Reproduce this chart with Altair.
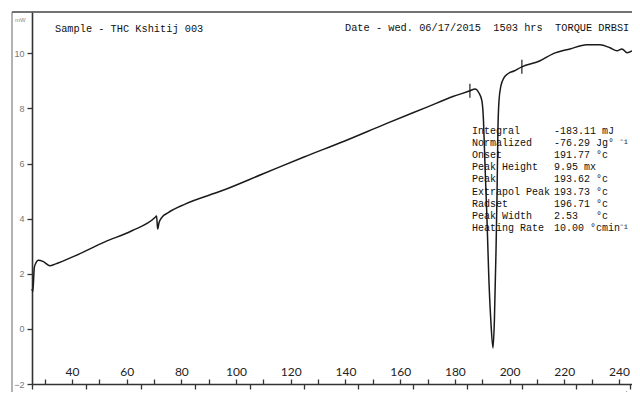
import altair as alt
import pandas as pd

# DSC curve: time (min) vs heat flow (mW)
time_min = [0.00, 0.03, 0.085, 0.17, 0.23, 0.42, 0.66, 0.85, 1.58, 2.68, 3.67,
            4.52, 4.58, 4.62, 4.67, 4.77, 5.01, 5.63, 7.0, 8.5, 10.0, 11.5, 13.0,
            14.5, 15.5, 16.10, 16.29, 16.43, 16.54, 16.60, 16.65, 16.73, 16.80,
            16.87, 16.95, 17.00, 17.06, 17.10, 17.13, 17.17, 17.24, 17.35, 17.50,
            17.72, 18.01, 18.68, 19.15, 19.78, 20.40, 20.88, 21.25, 21.51, 21.69,
            21.88, 22.06]
heat_flow = [1.45, 1.35, 2.23, 2.44, 2.49, 2.44, 2.29, 2.35, 2.65, 3.16, 3.56,
             4.04, 4.10, 3.62, 3.85, 4.04, 4.22, 4.53, 5.02, 5.63, 6.24, 6.82, 7.44,
             8.04, 8.44, 8.64, 8.71, 8.57, 8.28, 7.55, 6.10, 3.92, 1.74,
             0.29, -0.69, 0.29, 2.83, 5.01, 7.19, 8.28, 8.82, 9.11, 9.26,
             9.36, 9.51, 9.73, 9.98, 10.16, 10.31, 10.31, 10.20, 10.09, 10.16,
             10.02, 10.09]

# onset / endset markers on the curve
marker_t = [16.10, 18.01]
marker_y = [8.64, 9.51]

y_ticks = [-2, -1, 0, 1, 2, 3, 4, 5, 6, 7, 8, 9, 10, 11]
min_ticks = [0, 1, 2, 3, 4, 5, 6, 7, 8, 9, 10, 11, 12, 13, 14, 15, 16, 17, 18,
             19, 20, 21, 22]
temp_ticks = [30, 40, 50, 60, 70, 80, 90, 100, 110, 120, 130, 140, 150, 160,
              170, 180, 190, 200, 210, 220, 230, 240]

table_labels = ["Integral", "Normalized", "Onset", "Peak Height", "Peak",
                "Extrapol Peak", "Radset", "Peak Width", "Heating Rate"]
table_values = ["-183.11 mJ", "-76.29 Jg\u00b0 \u207b\u00b9", "191.77 \u00b0c",
                "9.95 mx", "193.62 \u00b0c", "193.73 \u00b0c", "196.71 \u00b0c",
                "2.53\u00a0\u00a0\u00a0\u00b0c", "10.00 \u00b0cmin\u207b\u00b9"]

sample_text = "Sample - THC Kshitij 003"
date_text = "Date - wed. 06/17/2015\u00a0\u00a01503 hrs\u00a0\u00a0TORQUE DRBSI"

W, H = 600, 372
MONO = "Liberation Mono"
INK = "#111111"

df = pd.DataFrame({"t": time_min, "y": heat_flow})
mk = pd.DataFrame({"t": marker_t, "y": marker_y})
tdf = pd.DataFrame({"T": temp_ticks})

xs = alt.Scale(domain=[0, 22.06], nice=False, zero=False)
ys = alt.Scale(domain=[-2, 11.5], nice=False, zero=False)

x_axis = alt.Axis(orient="bottom", values=min_ticks,
                  labelExpr="datum.value % 2 === 0 && datum.value <= 20 ? datum.label : ''",
                  title=None, grid=False, tickSize=5, tickWidth=1.3,
                  tickColor="#333", domainColor="#333", domainWidth=1.6,
                  labelColor="#777", labelFont="Liberation Sans",
                  labelFontSize=8, labelPadding=1, labelFlush=False)
y_axis = alt.Axis(values=y_ticks,
                  labelExpr="datum.value % 2 === 0 ? datum.label : ''",
                  title=None, grid=False, tickSize=5, tickWidth=1.3,
                  tickColor="#333", domainColor="#333", domainWidth=1.6,
                  labelColor="#777", labelFont="Liberation Sans",
                  labelFontSize=9, labelPadding=3)

curve = alt.Chart(df).mark_line(color="#1a1a1a", strokeWidth=1.5,
                                interpolate="monotone").encode(
    x=alt.X("t:Q", scale=xs, axis=x_axis),
    y=alt.Y("y:Q", scale=ys, axis=y_axis),
)

markers = alt.Chart(mk).mark_tick(orient="vertical", size=14, thickness=1.6,
                                  color=INK).encode(
    x=alt.X("t:Q", scale=xs), y=alt.Y("y:Q", scale=ys))

frame_top = alt.Chart().mark_rule(color="#444", strokeWidth=1.5).encode(
    x=alt.value(-20), x2=alt.value(W), y=alt.value(0))
frame_left = alt.Chart().mark_rule(color="#666", strokeWidth=1).encode(
    x=alt.value(-20), y=alt.value(0), y2=alt.value(H + 20))

t_sample = alt.Chart().mark_text(font=MONO, fontSize=10.3, color=INK,
                                 align="left", baseline="middle").encode(
    x=alt.value(23), y=alt.value(17), text=alt.value(sample_text))
t_date = alt.Chart().mark_text(font=MONO, fontSize=10.3, color=INK,
                               align="left", baseline="middle").encode(
    x=alt.value(313), y=alt.value(16), text=alt.value(date_text))
t_unit = alt.Chart().mark_text(font="Liberation Sans", fontSize=6, color="#888",
                               align="left", baseline="middle").encode(
    x=alt.value(-17), y=alt.value(8), text=alt.value("mW"))
t_min = alt.Chart().mark_text(font="Liberation Sans", fontSize=9, color="#555",
                              align="left", baseline="top").encode(
    x=alt.value(586), y=alt.value(H + 7), text=alt.value("min"))

t_lab = alt.Chart().mark_text(font=MONO, fontSize=10, color=INK, align="left",
                              baseline="top", lineBreak="\n",
                              lineHeight=12.1).encode(
    x=alt.value(440), y=alt.value(114), text=alt.value("\n".join(table_labels)))
t_val = alt.Chart().mark_text(font=MONO, fontSize=10, color=INK, align="left",
                              baseline="top", lineBreak="\n",
                              lineHeight=12.1).encode(
    x=alt.value(522), y=alt.value(114), text=alt.value("\n".join(table_values)))

inner = alt.layer(frame_top, frame_left, curve, markers, t_sample, t_date,
                  t_unit, t_min, t_lab, t_val)

temp_axis = alt.Axis(orient="top", offset=-H, values=temp_ticks,
                     labelExpr="datum.value % 20 === 0 ? datum.label : ''",
                     title=None, grid=False, domain=False, tickSize=5,
                     tickWidth=1.3, tickColor="#333", labelColor="#222",
                     labelFont="Lato", labelFontSize=12, labelPadding=1)
temp = alt.Chart(tdf).mark_tick(opacity=0).encode(
    x=alt.X("T:Q", scale=alt.Scale(domain=[25.4, 244.75], nice=False, zero=False),
            axis=temp_axis),
    y=alt.value(0))

chart = alt.layer(inner, temp).resolve_scale(x="independent").properties(
    width=W, height=H,
    padding={"left": 24, "top": 4, "right": 0, "bottom": 8},
    autosize=alt.AutoSizeParams(type="none"),
    background="white",
).configure_view(stroke=None)

chart.save("out.html", embed_options={"renderer": "svg", "actions": False})
